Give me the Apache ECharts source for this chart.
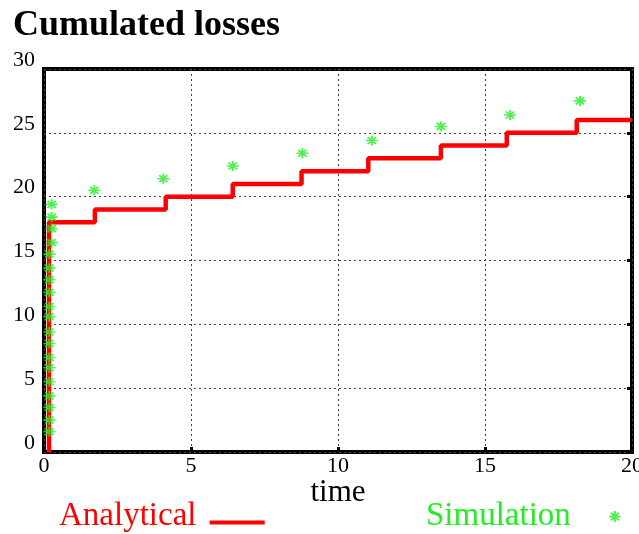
<!DOCTYPE html>
<html>
<head>
<meta charset="utf-8">
<script src="https://cdn.jsdelivr.net/npm/echarts@6/dist/echarts.min.js"></script>
<style>
  html, body { margin: 0; padding: 0; background: #fff; }
  #chart { width: 639px; height: 534px; }
</style>
</head>
<body>
<div id="chart"></div>
<script>
// Analytical cumulated losses: jump times and the level reached at each jump
var stepTimes = [0.17, 1.73, 4.14, 6.42, 8.76, 11.03, 13.5, 15.74, 18.12];
var stepLevels = [18, 19, 20, 21, 22, 23, 24, 25, 26];
var timeEnd = 20;

// Simulated cumulated losses
var simTime = [0.18, 0.18, 0.18, 0.18, 0.18, 0.18, 0.18, 0.18, 0.18, 0.18,
               0.18, 0.18, 0.18, 0.18, 0.18, 0.26, 0.26, 0.26, 0.26,
               1.71, 4.06, 6.42, 8.79, 11.15, 13.5, 15.85, 18.23];
var simLoss = [1.6, 2.5, 3.5, 4.4, 5.5, 6.6, 7.4, 8.5, 9.4, 10.6,
               11.4, 12.5, 13.5, 14.4, 15.5, 16.4, 17.5, 18.4, 19.4,
               20.5, 21.4, 22.4, 23.4, 24.4, 25.5, 26.4, 27.5];

var xTicks = [0, 5, 10, 15, 20];
var yTicks = [0, 5, 10, 15, 20, 25, 30];

var RED = '#ff0000';
var GREEN = '#22ee22';
var SERIF = '"Liberation Serif", "DejaVu Serif", serif';
var STAR = 'path://M5 0L5 10M0 5L10 5M1.5 1.5L8.5 8.5M8.5 1.5L1.5 8.5';
// legend bar for the analytical curve, sitting low in its icon box
var BAR = 'path://M0 0L0.01 0L0.01 0.01Z M0 12L55 12L55 16L0 16Z';

// step line: start at zero, then one point per jump, then hold until the end
var analytical = [[stepTimes[0], 0]];
for (var i = 0; i < stepTimes.length; i++) analytical.push([stepTimes[i], stepLevels[i]]);
analytical.push([timeEnd, stepLevels[stepLevels.length - 1]]);

var simulation = simTime.map(function (t, k) { return [t, simLoss[k]]; });

var chart = echarts.init(document.getElementById('chart'), null, { renderer: 'canvas' });

var gridLine = { show: true, lineStyle: { color: '#444', width: 1, type: [2, 3] } };

chart.setOption({
  animation: false,
  backgroundColor: '#fff',
  title: {
    text: 'Cumulated losses',
    left: 8, top: 3,
    textStyle: { fontFamily: SERIF, fontWeight: 'bold', fontSize: 36, color: '#000' }
  },
  grid: {
    left: 44, right: 7, top: 69, bottom: 82,
    outerBoundsMode: 'none',
    show: true, borderColor: '#000', borderWidth: 4, backgroundColor: 'transparent'
  },
  xAxis: [{
    type: 'value', min: xTicks[0], max: xTicks[xTicks.length - 1], interval: 5,
    name: 'time', nameLocation: 'middle', nameGap: 25, nameMoveOverlap: false,
    nameTextStyle: { fontFamily: SERIF, fontSize: 31, color: '#000' },
    axisLine: { show: false },
    axisTick: { show: true, inside: true, length: 5, lineStyle: { color: '#000', width: 3 } },
    axisLabel: { fontFamily: SERIF, fontSize: 22, color: '#000', margin: 3 },
    splitLine: gridLine
  }],
  yAxis: [{
    type: 'value', min: yTicks[0], max: yTicks[yTicks.length - 1], interval: 5,
    position: 'left',
    axisLine: { show: false },
    axisTick: { show: false },
    axisLabel: { fontFamily: SERIF, fontSize: 22, color: '#000', margin: 9,
                 verticalAlign: 'bottom', lineHeight: 18 },
    splitLine: gridLine
  }, {
    type: 'value', min: yTicks[0], max: yTicks[yTicks.length - 1], interval: 5,
    position: 'right',
    axisLine: { show: false },
    axisTick: { show: true, inside: true, length: 5, lineStyle: { color: '#000', width: 3 } },
    axisLabel: { show: false },
    splitLine: { show: false }
  }],
  legend: [{
    data: ['Analytical'],
    left: 54, top: 495,
    align: 'right',
    icon: BAR, itemWidth: 55, itemHeight: 16,
    formatter: function (name) { return name + ' '; },
    textStyle: { fontFamily: SERIF, fontSize: 33, color: RED }
  }, {
    data: ['Simulation'],
    left: 421, top: 495,
    align: 'right',
    itemWidth: 12, itemHeight: 11,
    formatter: function (name) { return name + '    '; },
    textStyle: { fontFamily: SERIF, fontSize: 33, color: GREEN }
  }],
  series: [{
    name: 'Analytical',
    type: 'line',
    step: 'end',
    data: analytical,
    symbol: 'none',
    lineStyle: { color: RED, width: 4.5 },
    itemStyle: { color: RED },
    z: 3
  }, {
    name: 'Simulation',
    type: 'scatter',
    data: simulation,
    symbol: STAR,
    symbolSize: [12, 10],
    itemStyle: { color: 'rgba(0,0,0,0)', borderColor: GREEN, borderWidth: 1.8 },
    z: 4
  }]
});
</script>
</body>
</html>
